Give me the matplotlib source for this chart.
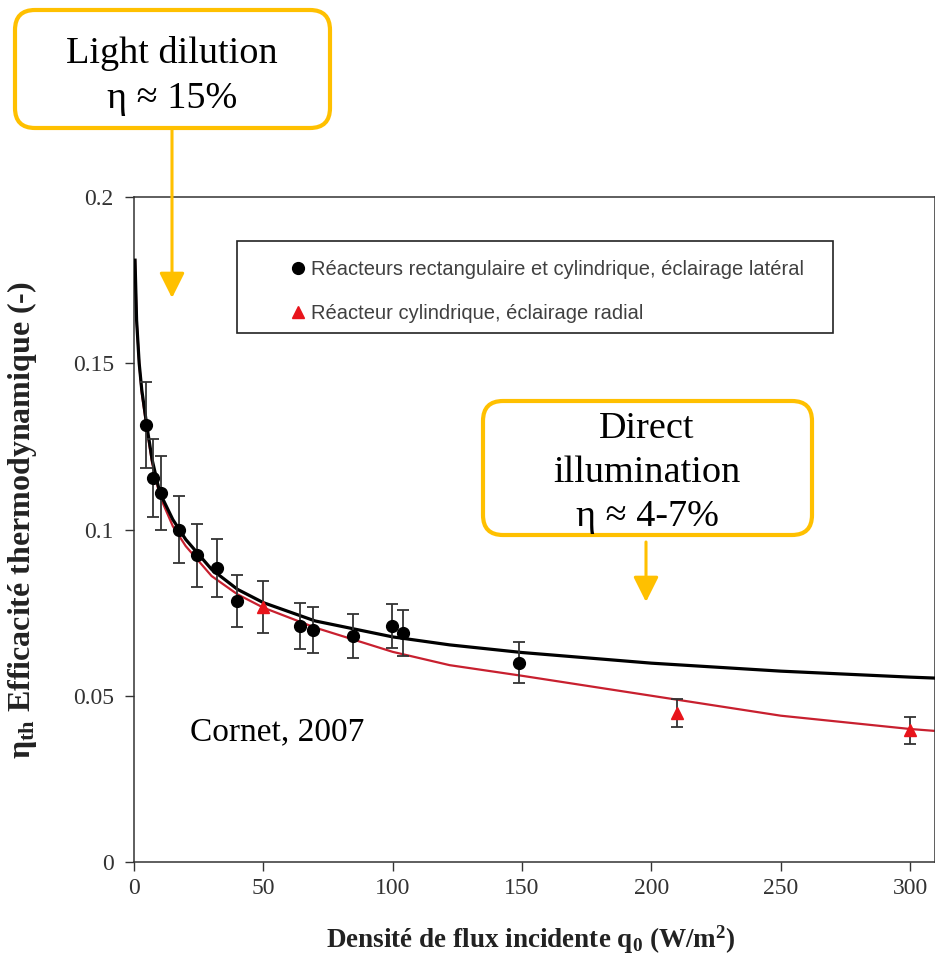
import matplotlib.pyplot as plt
from matplotlib.patches import FancyBboxPatch, FancyArrowPatch, Rectangle

plt.rcParams['mathtext.default'] = 'regular'

# points mesures - eclairage lateral
lat_q = [4.6, 7.3, 10.4, 17.4, 24.4, 32, 39.8, 64, 69, 84.5, 99.6, 104, 149]
lat_eta = [0.1314, 0.1155, 0.111, 0.100, 0.0923, 0.0884, 0.0785, 0.071, 0.0698, 0.068, 0.071, 0.0689, 0.060]
lat_err = [0.013, 0.0118, 0.011, 0.010, 0.0095, 0.0087, 0.0079, 0.0068, 0.007, 0.0067, 0.0066, 0.0068, 0.0063]

# points mesures - eclairage radial
rad_q = [50, 210, 300]
rad_eta = [0.0767, 0.0448, 0.0396]
rad_err = [0.0077, 0.0042, 0.0040]

# courbes modele
fit_q = [0.4, 1, 2, 3, 5, 7, 10, 15, 20, 30, 40, 50, 70, 100, 122, 150, 200, 250, 300, 310]
fit_lat = [0.181, 0.163, 0.150, 0.142, 0.131, 0.121, 0.111, 0.103, 0.097, 0.088, 0.082, 0.078,
           0.0725, 0.0677, 0.0653, 0.0630, 0.0598, 0.0574, 0.0556, 0.0553]
fit_rad = [0.181, 0.163, 0.150, 0.141, 0.130, 0.120, 0.110, 0.101, 0.095, 0.086, 0.0805, 0.0765,
           0.0705, 0.0632, 0.0592, 0.0560, 0.0500, 0.0440, 0.0400, 0.0394]

x_ticks = [0, 50, 100, 150, 200, 250, 300]
y_ticks = [0, 0.05, 0.1, 0.15, 0.2]
y_ticklabels = ['0', '0.05', '0.1', '0.15', '0.2']

W, H = 935, 966
fig = plt.figure(figsize=(W / 100, H / 100), dpi=100)
ax = fig.add_axes([134 / W, (H - 862) / H, 801 / W, 665 / H])

ax.plot(fit_q, fit_rad, color='#c8202f', linewidth=1.6, zorder=2)
ax.plot(fit_q, fit_lat, color='black', linewidth=2.3, zorder=3)

ax.errorbar(lat_q, lat_eta, yerr=lat_err, fmt='none', ecolor='#333333',
            elinewidth=1.3, capsize=4, capthick=1.3, zorder=4)
ax.errorbar(rad_q, rad_eta, yerr=rad_err, fmt='none', ecolor='#333333',
            elinewidth=1.3, capsize=4, capthick=1.3, zorder=4)
h1, = ax.plot(lat_q, lat_eta, 'o', color='black', markersize=8.5, zorder=5,
              label='Réacteurs rectangulaire et cylindrique, éclairage latéral')
h2, = ax.plot(rad_q, rad_eta, '^', color='#e8141b', markersize=9, zorder=5,
              label='Réacteur cylindrique, éclairage radial')

ax.set_xlim(0, 309.6)
ax.set_ylim(0, 0.2)
ax.set_xticks(x_ticks)
ax.set_yticks(y_ticks)
ax.set_yticklabels(y_ticklabels)
ax.tick_params(direction='out', length=6.5, width=1, colors='#333333',
               labelsize=17, labelfontfamily='Liberation Serif')
ax.tick_params(axis='y', pad=8)
ax.tick_params(axis='x', pad=5)
for s in ax.spines.values():
    s.set_linewidth(1.1)
    s.set_color('#333333')

ax.set_xlabel('Densité de flux incidente q$_0$ (W/m$^2$)', family='Liberation Serif',
              fontweight='bold', fontsize=19.5, color='#222222', va='top')
ax.xaxis.set_label_coords(0.4956, -0.092)
ax.set_ylabel('η$_{th}$ Efficacité thermodynamique (-)', family='Liberation Serif',
              fontweight='bold', fontsize=23, color='#222222')
ax.yaxis.set_label_coords(-0.119, 0.514)

# legende
ax.add_patch(Rectangle((0.1286, 0.7955), 0.7441, 0.1383, transform=ax.transAxes,
                       fill=False, edgecolor='#222222', linewidth=1.2, zorder=6))
ax.legend(handles=[h1, h2], loc='upper left', bbox_to_anchor=(0.1925, 0.905),
          frameon=False, borderpad=0, borderaxespad=0, handlelength=1.0,
          handletextpad=0.15, labelspacing=1.22,
          prop={'family': 'Liberation Sans', 'size': 14.5}, labelcolor='#404040')


# annotations en pixels -> pouces
def px(x, y):
    return (x / 100, (H - y) / 100)


inch = fig.dpi_scale_trans
gold = '#FFC000'
fig.text(*px(190, 740), 'Cornet, 2007', transform=inch, ha='left', va='baseline',
         family='Liberation Serif', fontsize=24)

for (x0, y0, x1, y1) in [(15, 10, 330, 128), (483, 401, 812, 535)]:
    fig.add_artist(FancyBboxPatch(px(x0, y1), (x1 - x0) / 100, (y1 - y0) / 100,
                                  boxstyle='round,pad=0,rounding_size=0.2', transform=inch,
                                  facecolor='white', edgecolor=gold, linewidth=3))

for (x, y0, y1) in [(172, 128, 298), (646, 542, 602)]:
    fig.add_artist(FancyArrowPatch(px(x, y0), px(x, y1), transform=inch,
                                   arrowstyle='-|>,head_length=1.1,head_width=0.55',
                                   mutation_scale=14, color=gold, linewidth=2.2,
                                   shrinkA=0, shrinkB=0))

for txt, x, y in [('Light dilution', 172, 63), ('η ≈ 15%', 172, 108),
                  ('Direct', 647, 438), ('illumination', 647, 482), ('η ≈ 4-7%', 647, 526)]:
    fig.text(*px(x, y), txt, transform=inch, ha='center', va='baseline',
             family='Liberation Serif', fontsize=27.5)

fig.savefig('out.png', dpi=100)
